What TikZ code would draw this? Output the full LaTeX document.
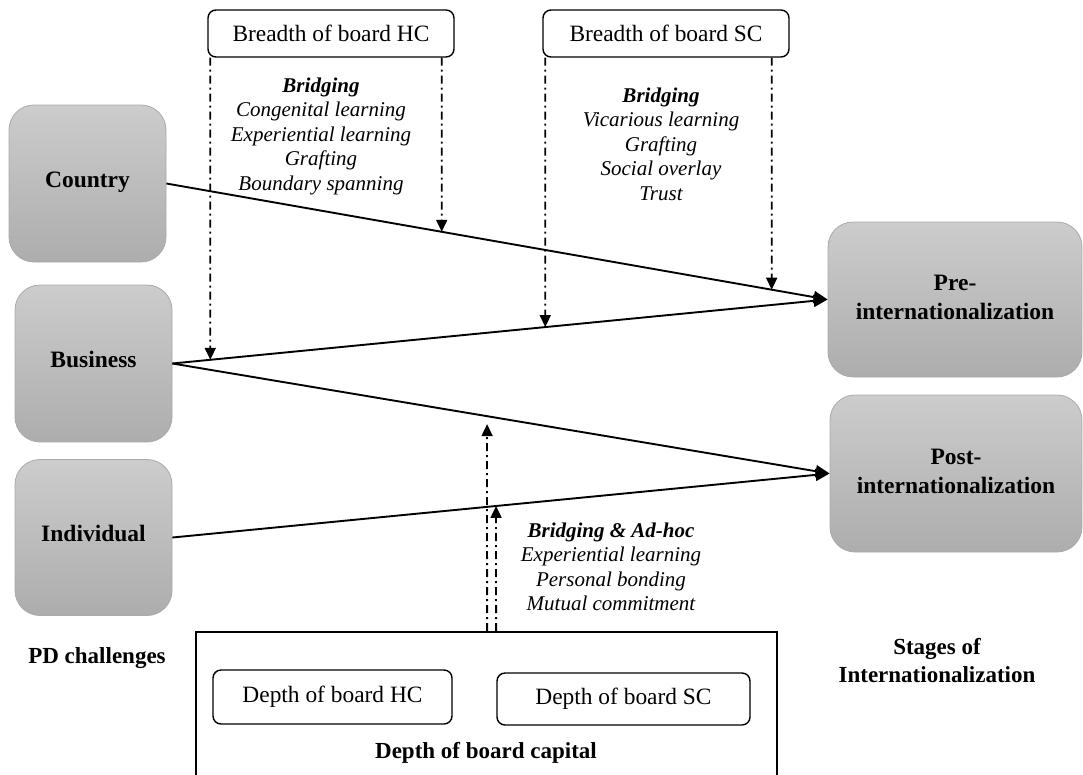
\documentclass[tikz,border=0pt]{standalone}
\usepackage{fontspec}
\setmainfont{Liberation Serif}
\usetikzlibrary{arrows.meta,calc}
\definecolor{gtop}{RGB}{204,204,204}
\definecolor{gbot}{RGB}{173,173,173}
\definecolor{gedge}{RGB}{170,170,170}
\begin{document}
\begin{tikzpicture}[x=1pt,y=-1pt,
  graybox/.style={draw=gedge, line width=0.8pt, rounded corners=25pt, top color=gtop, bottom color=gbot,
    font=\fontsize{23.5}{29}\selectfont\bfseries, align=center, inner sep=0pt},
  whitebox/.style={draw, line width=1.4pt, rounded corners=8pt, fill=white,
    font=\fontsize{23.4}{27}\selectfont, inner sep=0pt},
  boldlabel/.style={font=\fontsize{23}{28}\selectfont\bfseries, align=center, inner sep=0pt},
  mechs/.style={font=\fontsize{21}{24.5}\selectfont\itshape, align=center, inner sep=0pt},
  conn/.style={line width=1.9pt, -{Triangle[length=14pt,width=12pt]}},
  dd/.style={line width=1.8pt, dash pattern=on 8pt off 4pt on 2pt off 4pt, -{Triangle[length=12pt,width=11pt]}}
]
\useasboundingbox (0,0) rectangle (1083,774);

% left column
\node[graybox, minimum width=157pt, minimum height=157pt] (country) at (87.5,183.5) {\raisebox{8pt}{Country}};
\node[graybox, minimum width=157pt, minimum height=157pt] (busi) at (93.5,363.5) {\raisebox{8pt}{Business}};
\node[graybox, minimum width=157pt, minimum height=156pt] (indiv) at (93.5,537.5) {\raisebox{8pt}{Individual}};

% right column
\node[graybox, minimum width=254pt, minimum height=155pt] (pre) at (955,299.5) {\raisebox{7pt}{\begin{tabular}{c}Pre-\\internationalization\end{tabular}}};
\node[graybox, minimum width=252pt, minimum height=157pt] (post) at (956,473.5) {\raisebox{7pt}{\begin{tabular}{c}Post-\\internationalization\end{tabular}}};

% breadth boxes
\node[whitebox, minimum width=246pt, minimum height=47pt] (hcb) at (331,33.5) {Breadth of board HC};
\node[whitebox, minimum width=246pt, minimum height=47pt] (scb) at (666,33.5) {Breadth of board SC};

% depth box
\node[draw, line width=1.8pt, minimum width=581pt, minimum height=150pt, inner sep=0pt] (depth) at (486.5,707) {};
\node[whitebox, minimum width=239pt, minimum height=54pt] (hcd) at (332.5,697) {Depth of board HC};
\node[whitebox, minimum width=253pt, minimum height=52pt] (scd) at (623.5,699) {Depth of board SC};
\node[boldlabel] (depthlab) at (486,753) {Depth of board capital};

% side labels
\node[boldlabel] (pdlab) at (97,658) {PD challenges};
\node[boldlabel] (stlab) at (937,661) {Stages of\\Internationalization};

% mechanisms
\node[mechs] (hcm) at (321,136) {\textbf{Bridging}\\Congenital learning\\Experiential learning\\Grafting\\Boundary spanning};
\node[mechs] (scm) at (661,144) {\textbf{Bridging}\\Vicarious learning\\Grafting\\Social overlay\\Trust};
\node[mechs] (dm) at (611,567) {\textbf{Bridging \& Ad-hoc}\\Experiential learning\\Personal bonding\\Mutual commitment};

% main connectors
\draw[conn] (country.east) -- (pre.west);
\draw[conn] (busi.east) -- (pre.west);
\draw[conn] (busi.east) -- (post.west);
\draw[conn] (indiv.east) -- (post.west);

% moderating arrows (breadth)
\coordinate (hl) at ($(hcb.south west)+(3,0)$);
\coordinate (hr) at ($(hcb.south east)+(-13,0)$);
\coordinate (sl) at ($(scb.south west)+(3,0)$);
\coordinate (sr) at ($(scb.south east)+(-18,0)$);
\coordinate (hlb) at ($(hl)+(0,500)$);
\coordinate (hrb) at ($(hr)+(0,500)$);
\coordinate (slb) at ($(sl)+(0,500)$);
\coordinate (srb) at ($(sr)+(0,500)$);
\coordinate (be) at (busi.east);
\coordinate (ce) at (country.east);
\coordinate (ie) at (indiv.east);
\coordinate (pw) at (pre.west);
\coordinate (qw) at (post.west);
\draw[dd] (hl) -- (intersection of hl--hlb and be--pw);
\draw[dd] (hr) -- (intersection of hr--hrb and ce--pw);
\draw[dd] (sl) -- (intersection of sl--slb and be--pw);
\draw[dd] (sr) -- (intersection of sr--srb and ce--pw);

% moderating arrows (depth)
\coordinate (d1) at ($(depth.north west)+(292,0)$);
\coordinate (d2) at ($(depth.north west)+(301,0)$);
\coordinate (d1t) at ($(d1)+(0,-400)$);
\coordinate (d2t) at ($(d2)+(0,-400)$);
\coordinate (d1e) at (intersection of d1--d1t and be--qw);
\draw[dd] (d1) -- ($(d1e)+(0,8)$);
\draw[dd] (d2) -- (intersection of d2--d2t and ie--qw);
\end{tikzpicture}
\end{document}
